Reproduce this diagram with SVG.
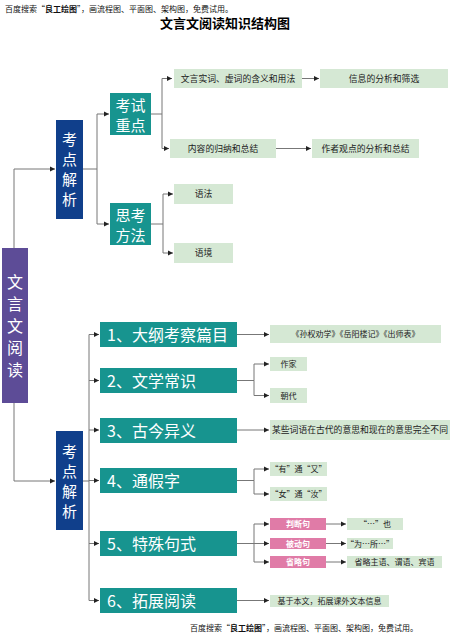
<svg xmlns="http://www.w3.org/2000/svg" width="450" height="636" viewBox="0 0 450 636">
<defs>
<marker id="arr" markerWidth="6" markerHeight="6" refX="5" refY="3" orient="auto" markerUnits="userSpaceOnUse">
<path d="M0,0.5 L5,3 L0,5.5 z" fill="#222"/>
</marker>
<style>
text{font-family:"Noto Sans CJK SC","Noto Sans",sans-serif;}
.root{fill:#5d4c97;}
.kd{fill:#103f8b;}
.teal{fill:#17948f;}
.green{fill:#d5e8d4;}
.pink{fill:#e07ba7;}
.big{fill:#fff;font-size:16px;}
.vt{fill:#fff;font-size:15px;text-anchor:middle;}
.vr{fill:#fff;font-size:16px;text-anchor:middle;}
.sm{fill:#222;font-size:8.8px;text-anchor:middle;}
.sml{fill:#222;font-size:8.8px;text-anchor:start;}
.sm2{fill:#222;font-size:8px;text-anchor:middle;}
.pk{fill:#fff;font-size:8px;font-weight:bold;text-anchor:middle;}
.wm{fill:#111;font-size:8px;}
#connectors path{fill:none;stroke:#777;stroke-width:1;}
</style>
</defs>
<text class="wm" x="5" y="12">百度搜索“<tspan font-weight="bold">良工绘图</tspan>”，画流程图、平面图、架构图，免费试用。</text>
<text x="225" y="28" text-anchor="middle" font-size="13" font-weight="bold" fill="#000">文言文阅读知识结构图</text>
<g id="connectors">
<path d="M14,248 V169 H55" marker-end="url(#arr)"/>
<path d="M14,403 V481 H55" marker-end="url(#arr)"/>
<path d="M83,169 H97 V114 H109" marker-end="url(#arr)"/>
<path d="M97,169 V224 H109" marker-end="url(#arr)"/>
<path d="M151,114 H162 V78.5 H172" marker-end="url(#arr)"/>
<path d="M162,114 V148.5 H169" marker-end="url(#arr)"/>
<path d="M302,78.5 H319" marker-end="url(#arr)"/>
<path d="M276,148.5 H311" marker-end="url(#arr)"/>
<path d="M151,224 H163 V194 H173" marker-end="url(#arr)"/>
<path d="M163,224 V253 H173" marker-end="url(#arr)"/>
<path d="M83,481 H89 V334.5 H99" marker-end="url(#arr)"/>
<path d="M89,380.5 H99" marker-end="url(#arr)"/>
<path d="M89,430 H99" marker-end="url(#arr)"/>
<path d="M89,480.5 H99" marker-end="url(#arr)"/>
<path d="M89,543.5 H99" marker-end="url(#arr)"/>
<path d="M89,481 V600.5 H99" marker-end="url(#arr)"/>
<path d="M237,334.5 H269" marker-end="url(#arr)"/>
<path d="M237,380.5 H254 V364 H269" marker-end="url(#arr)"/>
<path d="M254,380.5 V395.5 H269" marker-end="url(#arr)"/>
<path d="M237,430 H269" marker-end="url(#arr)"/>
<path d="M237,480.5 H254 V469 H269" marker-end="url(#arr)"/>
<path d="M254,480.5 V494 H269" marker-end="url(#arr)"/>
<path d="M237,543.5 H254 V524 H269" marker-end="url(#arr)"/>
<path d="M254,543.5 H269" marker-end="url(#arr)"/>
<path d="M254,543.5 V562 H269" marker-end="url(#arr)"/>
<path d="M326,524 H346" marker-end="url(#arr)"/>
<path d="M326,543.5 H346" marker-end="url(#arr)"/>
<path d="M326,562 H346" marker-end="url(#arr)"/>
<path d="M237,600.5 H269" marker-end="url(#arr)"/>
</g>
<g id="root">
<rect class="root" x="2" y="248" width="26" height="155"/>
<text class="vr" x="15" y="288">文</text>
<text class="vr" x="15" y="310">言</text>
<text class="vr" x="15" y="332">文</text>
<text class="vr" x="15" y="354">阅</text>
<text class="vr" x="15" y="376">读</text>
</g>
<g id="kd1">
<rect class="kd" x="56" y="120" width="27" height="99"/>
<text class="vt" x="69.5" y="145">考</text>
<text class="vt" x="69.5" y="165">点</text>
<text class="vt" x="69.5" y="185">解</text>
<text class="vt" x="69.5" y="205">析</text>
</g>
<g id="kszd">
<rect class="teal" x="110" y="93" width="41" height="42"/>
<text class="vt" font-size="16" x="130.5" y="111">考试</text>
<text class="vt" font-size="16" x="130.5" y="131">重点</text>
</g>
<g id="skff">
<rect class="teal" x="110" y="203" width="41" height="42"/>
<text class="vt" x="130.5" y="221">思考</text>
<text class="vt" x="130.5" y="241">方法</text>
</g>
<g id="n-wyc">
<rect class="green" x="174" y="69" width="128" height="19"/>
<text class="sm" x="238" y="81.5">文言实词、虚词的含义和用法</text>
</g>
<g id="n-xx">
<rect class="green" x="320" y="69" width="128" height="19"/>
<text class="sm" x="384" y="81.5">信息的分析和筛选</text>
</g>
<g id="n-nr">
<rect class="green" x="170" y="139" width="106" height="19"/>
<text class="sm" x="223" y="151.5">内容的归纳和总结</text>
</g>
<g id="n-zz">
<rect class="green" x="312" y="139" width="107" height="19"/>
<text class="sm" x="365.5" y="151.5">作者观点的分析和总结</text>
</g>
<g id="n-yf">
<rect class="green" x="174" y="184" width="59" height="20"/>
<text class="sm" x="203.5" y="197">语法</text>
</g>
<g id="n-yj">
<rect class="green" x="174" y="243" width="59" height="20"/>
<text class="sm" x="203.5" y="256">语境</text>
</g>
<g id="kd2">
<rect class="kd" x="56" y="431" width="27" height="99"/>
<text class="vt" x="69.5" y="457">考</text>
<text class="vt" x="69.5" y="477">点</text>
<text class="vt" x="69.5" y="497">解</text>
<text class="vt" x="69.5" y="517">析</text>
</g>
<g id="t1">
<rect class="teal" x="100" y="322" width="137" height="25"/>
<text class="big" x="107" y="340.5">1、大纲考察篇目</text>
</g>
<g id="t2">
<rect class="teal" x="100" y="368" width="137" height="25"/>
<text class="big" x="107" y="386.5">2、文学常识</text>
</g>
<g id="t3">
<rect class="teal" x="100" y="418" width="137" height="25"/>
<text class="big" x="107" y="436.5">3、古今异义</text>
</g>
<g id="t4">
<rect class="teal" x="100" y="468" width="137" height="25"/>
<text class="big" x="107" y="486.5">4、通假字</text>
</g>
<g id="t5">
<rect class="teal" x="100" y="531" width="137" height="25"/>
<text class="big" x="107" y="549.5">5、特殊句式</text>
</g>
<g id="t6">
<rect class="teal" x="100" y="588" width="137" height="25"/>
<text class="big" x="107" y="606.5">6、拓展阅读</text>
</g>
<g id="c1">
<rect class="green" x="270" y="325" width="171" height="18"/>
<text class="sm2" x="355.5" y="337">《孙权劝学》《岳阳楼记》《出师表》</text>
</g>
<g id="c2a">
<rect class="green" x="270" y="357" width="37" height="14"/>
<text class="sm2" x="288.5" y="367">作家</text>
</g>
<g id="c2b">
<rect class="green" x="270" y="388" width="37" height="15"/>
<text class="sm2" x="288.5" y="398.5">朝代</text>
</g>
<g id="c3">
<rect class="green" x="270" y="420" width="180" height="20"/>
<text class="sml" x="272" y="433">某些词语在古代的意思和现在的意思完全不同</text>
</g>
<g id="c4a">
<rect class="green" x="270" y="462" width="57" height="14"/>
<text class="sm2" x="298.5" y="472">“有”通“又”</text>
</g>
<g id="c4b">
<rect class="green" x="270" y="487" width="57" height="14"/>
<text class="sm2" x="298.5" y="497">“女”通“汝”</text>
</g>
<g id="p1">
<rect class="pink" x="270" y="518" width="56" height="12"/>
<text class="pk" x="298" y="527">判断句</text>
</g>
<g id="p2">
<rect class="pink" x="270" y="538" width="56" height="11"/>
<text class="pk" x="298" y="546.5">被动句</text>
</g>
<g id="p3">
<rect class="pink" x="270" y="556" width="56" height="12"/>
<text class="pk" x="298" y="565">省略句</text>
</g>
<g id="g1">
<rect class="green" x="347" y="518" width="56" height="12"/>
<text class="sm2" x="375" y="527">“…”也</text>
</g>
<g id="g2">
<rect class="green" x="347" y="538" width="46" height="11"/>
<text class="sm2" x="370" y="546.5">“为…所…”</text>
</g>
<g id="g3">
<rect class="green" x="347" y="556" width="95" height="12"/>
<text class="sm2" x="394.5" y="565">省略主语、谓语、宾语</text>
</g>
<g id="c6">
<rect class="green" x="270" y="595" width="119" height="12"/>
<text class="sm2" x="329.5" y="604">基于本文，拓展课外文本信息</text>
</g>
<text class="wm" x="190" y="631">百度搜索“<tspan font-weight="bold">良工绘图</tspan>”，画流程图、平面图、架构图，免费试用。</text>
</svg>
